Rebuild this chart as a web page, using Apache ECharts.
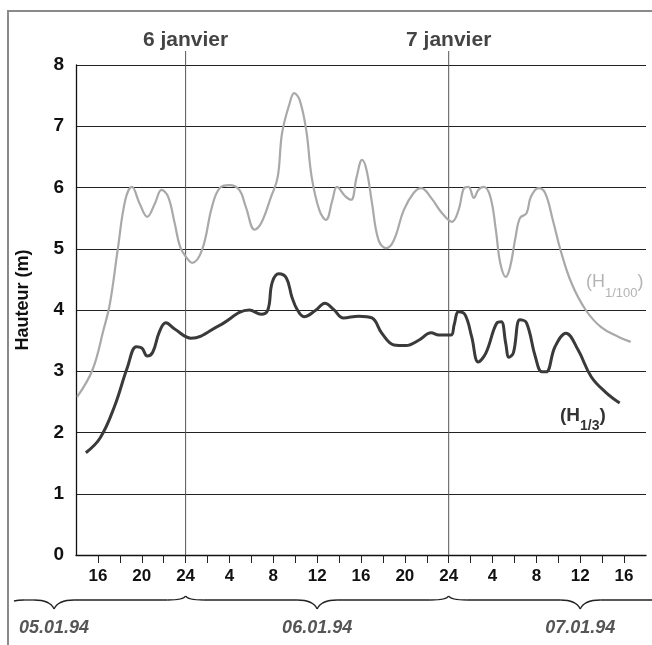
<!DOCTYPE html>
<html>
<head>
<meta charset="utf-8">
<script src="https://cdn.jsdelivr.net/npm/echarts@6/dist/echarts.min.js"></script>
<style>
html,body{margin:0;padding:0;background:#fff;}
#chart{width:652px;height:645px;}
</style>
</head>
<body>
<div id="chart"></div>
<script>
// Hours counted from 05.01.94 00:00
const hours13 = [14.9,16.2,17.5,18.7,19.5,20.0,20.5,21.0,21.6,22.2,23.0,24.5,27.1,29.8,30.9,31.5,31.9,32.5,33.2,33.7,34.2,34.8,35.9,36.7,37.5,38.4,39.8,41.0,41.9,43.0,44.1,45.3,46.4,47.1,48.2,48.5,48.9,49.5,50.1,50.7,51.4,52.4,52.8,53.2,53.5,53.9,54.5,55.1,55.9,56.5,56.9,57.7,58.7,59.8,61.0,62.3,63.6];
const values13 = [1.67,1.91,2.42,3.07,3.40,3.38,3.25,3.31,3.64,3.79,3.69,3.54,3.75,4.0,3.93,4.0,4.45,4.59,4.52,4.21,4.0,3.89,4.0,4.11,4.01,3.87,3.90,3.87,3.62,3.43,3.42,3.51,3.63,3.59,3.59,3.76,3.97,3.92,3.56,3.15,3.30,3.79,3.81,3.46,3.23,3.30,3.84,3.79,3.24,2.99,2.99,3.40,3.62,3.35,2.91,2.66,2.48];

const hours100 = [14.1,15.5,16.5,17.1,17.8,18.5,19.1,19.8,20.5,21.2,21.8,22.4,23.0,23.5,24.1,24.6,25.5,26.4,27.1,28.0,28.9,29.5,30.3,30.9,31.8,32.4,32.8,33.5,33.9,34.4,35.0,35.5,36.2,36.8,37.4,37.8,38.6,39.1,39.6,40.1,40.5,41.0,41.6,42.3,43.0,43.9,44.8,45.5,46.4,47.4,48.3,48.9,49.4,49.8,50.3,50.7,51.2,51.8,52.3,52.7,53.2,53.6,54.1,54.5,55.1,55.5,56.2,56.8,57.5,58.2,59.2,60.5,61.9,63.5,64.6];
const values100 = [2.58,3.02,3.67,4.11,4.98,5.80,6.01,5.74,5.52,5.74,5.96,5.85,5.42,5.03,4.85,4.77,4.98,5.68,5.99,6.04,5.96,5.68,5.31,5.42,5.85,6.17,6.89,7.38,7.54,7.43,6.94,6.17,5.63,5.47,5.80,6.01,5.85,5.80,6.17,6.45,6.29,5.75,5.14,5.01,5.14,5.63,5.91,5.99,5.83,5.58,5.44,5.63,5.99,6.01,5.83,5.96,6.01,5.85,5.31,4.77,4.54,4.70,5.19,5.50,5.58,5.85,5.99,5.91,5.47,4.98,4.44,4.00,3.72,3.56,3.48];

const midnights = [24, 48];
const dayTitles = ['6 janvier', '7 janvier'];
const dayStarts = [0, 24, 48];
const dateLabels = ['05.01.94', '06.01.94', '07.01.94'];
const yTicks = [0,1,2,3,4,5,6,7,8];
const xMin = 14, xMax = 66;

const FONT = '"Liberation Sans", Arial, Helvetica, sans-serif';
const chart = echarts.init(document.getElementById('chart'), null, {renderer: 'canvas'});

const zip = (a, b) => a.map((h, i) => [h, b[i]]);

chart.setOption({
  animation: false,
  backgroundColor: '#fff',
  grid: {left: 76, right: 6, top: 65, bottom: 90, containLabel: false},
  xAxis: {
    type: 'value', min: xMin, max: xMax, interval: 2,
    axisLine: {show: true, lineStyle: {color: '#111', width: 1.3}},
    axisTick: {show: true, length: 8, inside: false, lineStyle: {color: '#222', width: 1}},
    splitLine: {show: false},
    axisLabel: {
      margin: 13, fontSize: 17, fontWeight: 'bold', color: '#111', fontFamily: FONT,
      showMinLabel: false, showMaxLabel: false,
      formatter: function (v) {
        if (v % 4 !== 0) return '';
        const h = v % 24;
        return h === 0 ? '24' : String(h);
      }
    }
  },
  yAxis: {
    type: 'value', min: yTicks[0], max: yTicks[yTicks.length - 1], interval: 1,
    name: 'Hauteur (m)', nameLocation: 'middle', nameRotate: 90, nameGap: 44,
    nameTextStyle: {fontSize: 18, fontWeight: 'bold', color: '#111', fontFamily: FONT, padding: [0, 0, 0, 20]},
    axisLine: {show: true, lineStyle: {color: '#111', width: 1.3}},
    axisTick: {show: false},
    splitLine: {show: true, lineStyle: {color: '#222', width: 1.2}},
    axisLabel: {margin: 12, fontSize: 19, fontWeight: 'bold', color: '#111', fontFamily: FONT}
  },
  series: [
    {
      name: 'H1/100', type: 'line', data: zip(hours100, values100),
      showSymbol: false, smooth: 0.4,
      lineStyle: {color: '#a9a9a9', width: 2.2}, z: 3
    },
    {
      name: 'H1/3', type: 'line', data: zip(hours13, values13),
      showSymbol: false, smooth: 0.4,
      lineStyle: {color: '#3a3a3a', width: 3}, z: 4
    }
  ]
});

function px(h, v) { return chart.convertToPixel({gridIndex: 0}, [h, v]); }

const graphics = [];
// outer frame
graphics.push({type: 'rect', shape: {x: 8, y: 11, width: 700, height: 700},
  style: {fill: 'none', stroke: '#8a8a8a', lineWidth: 2}, silent: true, z: 1});

const y0 = px(xMin, 0)[1];
midnights.forEach((h, i) => {
  const x = px(h, 0)[0];
  graphics.push({type: 'line', shape: {x1: x, y1: 51, x2: x, y2: y0},
    style: {stroke: '#555', lineWidth: 1}, silent: true, z: 2});
  graphics.push({type: 'text', x: x, y: 40,
    style: {text: dayTitles[i], fill: '#444', font: 'bold 21px ' + FONT, align: 'center', verticalAlign: 'middle'},
    silent: true, z: 5});
});

// braces under the axis, one per day with the tip at noon
const bStyle = {stroke: '#222', lineWidth: 1.3, fill: 'none'};
function seg(x1, y1, x2, y2) {
  graphics.push({type: 'line', shape: {x1: x1, y1: y1, x2: x2, y2: y2}, style: bStyle, silent: true, z: 2});
}
function curve(x1, y1, cx, cy, x2, y2) {
  graphics.push({type: 'bezierCurve', shape: {x1: x1, y1: y1, cpx1: cx, cpy1: cy, x2: x2, y2: y2}, style: bStyle, silent: true, z: 2});
}
dayStarts.forEach((d, i) => {
  const x0 = px(d, 0)[0], x1 = px(d + 24, 0)[0], xm = px(d + 12, 0)[0];
  const yb = 600, yt = 609, ye = 596;
  if (x0 < 14) {
    curve(14, 601, 18, yb, 24, yb);
    seg(24, yb, xm - 20, yb);
  } else {
    curve(x0, ye, x0 + 2, yb, x0 + 18, yb);
    seg(x0 + 18, yb, xm - 20, yb);
  }
  curve(xm - 20, yb, xm - 4, yb, xm, yt);
  curve(xm, yt, xm + 4, yb, xm + 20, yb);
  seg(xm + 20, yb, x1 - 18, yb);
  curve(x1 - 18, yb, x1 - 2, yb, x1, ye);
  graphics.push({type: 'text', x: xm, y: 628,
    style: {text: dateLabels[i], fill: '#555', font: 'italic bold 18px ' + FONT, align: 'center', verticalAlign: 'middle'},
    silent: true, z: 5});
});

// series labels
graphics.push({type: 'text', x: 586, y: 273,
  style: {text: '{a|(H}{s|1/100}{a|)}',
    rich: {a: {fontSize: 18, fontFamily: FONT, fill: '#b4b4b4', lineHeight: 27, verticalAlign: 'top'},
           s: {fontSize: 13, fontFamily: FONT, fill: '#b4b4b4', lineHeight: 27, verticalAlign: 'bottom'}}},
  silent: true, z: 5});
graphics.push({type: 'text', x: 560, y: 406,
  style: {text: '{a|(H}{s|1/3}{a|)}',
    rich: {a: {fontSize: 19, fontWeight: 'bold', fontFamily: FONT, fill: '#333', lineHeight: 27, verticalAlign: 'top'},
           s: {fontSize: 14, fontWeight: 'bold', fontFamily: FONT, fill: '#333', lineHeight: 27, verticalAlign: 'bottom'}}},
  silent: true, z: 5});

chart.setOption({graphic: graphics});
</script>
</body>
</html>
